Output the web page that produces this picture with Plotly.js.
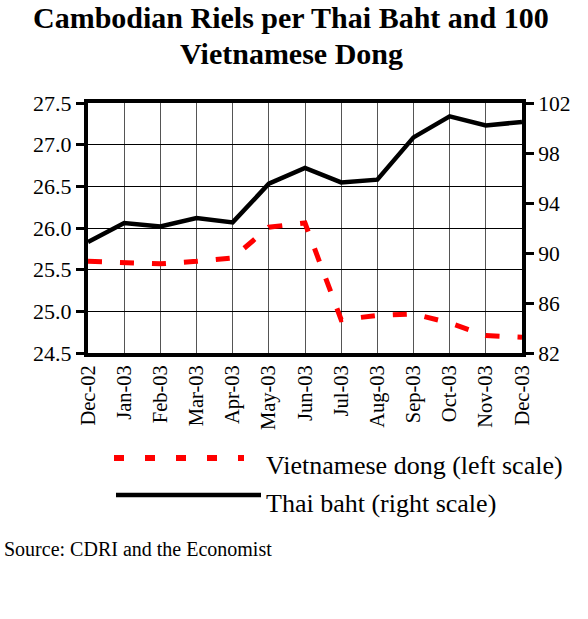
<!DOCTYPE html>
<html><head><meta charset="utf-8">
<script src="https://cdn.plot.ly/plotly-3.0.1.min.js"></script>
<style>html,body{margin:0;padding:0;background:#fff}#c{width:588px;height:619px}</style>
</head><body><div id="c"></div>
<script>
const months = ["Dec-02","Jan-03","Feb-03","Mar-03","Apr-03","May-03","Jun-03","Jul-03","Aug-03","Sep-03","Oct-03","Nov-03","Dec-03"];
const dongValues = [25.60,25.59,25.57,25.60,25.64,26.01,26.06,24.90,24.95,24.97,24.86,24.71,24.69];
const bahtValues = [90.88,92.40,92.13,92.80,92.45,95.54,96.80,95.65,95.87,99.25,100.93,100.21,100.48];
const leftTicks = [24.5,25.0,25.5,26.0,26.5,27.0,27.5];
const rightTicks = [82,86,90,94,98,102];

const idx = months.map((m,i)=>i);
const serif = "Liberation Serif, Times New Roman, serif";
const py = px => (353 - px) / 250;
const pxX = px => (px - 88) / 434;

const traces = [
  {x: idx, y: dongValues, type:"scatter", mode:"lines", name:"Vietnamese dong (left scale)",
   line:{color:"#ff0000", width:5, dash:"14px,18px"}, yaxis:"y", cliponaxis:false},
  {x: idx, y: bahtValues, type:"scatter", mode:"lines", name:"Thai baht (right scale)",
   line:{color:"#000000", width:4.5}, yaxis:"y2", cliponaxis:false}
];

const layout = {
  width:588, height:619, paper_bgcolor:"#fff", plot_bgcolor:"#fff",
  margin:{l:88, r:66, t:103, b:266},
  showlegend:false,
  font:{family:serif, color:"#000", size:21},
  xaxis:{range:[0,12], tickvals:idx, ticktext:months, tickangle:-90, showgrid:true, gridcolor:"#555", gridwidth:1,
         showline:true, linewidth:4, linecolor:"#000", mirror:true, ticks:"", zeroline:false,
         tickfont:{size:20.5, family:serif}},
  yaxis:{range:[24.5,27.5], tickvals:leftTicks, ticktext:leftTicks.map(v=>v.toFixed(1)), showgrid:true, gridcolor:"#000", gridwidth:1,
         showline:true, linewidth:4, linecolor:"#000", ticks:"outside", ticklen:8, tickwidth:3, tickcolor:"#000",
         zeroline:false, tickfont:{size:22, family:serif}},
  yaxis2:{range:[82,102], tickvals:rightTicks, overlaying:"y", side:"right", showgrid:false,
          showline:true, linewidth:4, linecolor:"#000", ticks:"outside", ticklen:8, tickwidth:3, tickcolor:"#000",
          zeroline:false, tickfont:{size:21.5, family:serif}},
  shapes:[
    {type:"line", xref:"paper", yref:"paper", x0:pxX(114), x1:pxX(244), y0:py(458), y1:py(458),
     line:{color:"#ff0000", width:6, dash:"10px,21px"}},
    {type:"line", xref:"paper", yref:"paper", x0:pxX(116), x1:pxX(261), y0:py(495), y1:py(495),
     line:{color:"#000", width:4.5}}
  ],
  annotations:[
    {xref:"paper", yref:"paper", x:0.5*(pxX(0)+pxX(582)), y:py(18), xanchor:"center", yanchor:"middle", showarrow:false,
     text:"<b>Cambodian Riels per Thai Baht and 100</b>", font:{size:30, family:serif, color:"#000"}},
    {xref:"paper", yref:"paper", x:0.5*(pxX(0)+pxX(582)), y:py(53), xanchor:"center", yanchor:"middle", showarrow:false,
     text:"<b>Vietnamese Dong</b>", font:{size:30, family:serif, color:"#000"}},
    {xref:"paper", yref:"paper", x:pxX(264), y:py(465), xanchor:"left", yanchor:"middle", showarrow:false,
     text:"Vietnamese dong (left scale)", font:{size:26, family:serif, color:"#000"}},
    {xref:"paper", yref:"paper", x:pxX(264), y:py(503), xanchor:"left", yanchor:"middle", showarrow:false,
     text:"Thai baht (right scale)", font:{size:26, family:serif, color:"#000"}},
    {xref:"paper", yref:"paper", x:pxX(2), y:py(549), xanchor:"left", yanchor:"middle", showarrow:false,
     text:"Source: CDRI and the Economist", font:{size:20, family:serif, color:"#000"}}
  ]
};
Plotly.newPlot("c", traces, layout, {displayModeBar:false, staticPlot:true});
</script></body></html>
